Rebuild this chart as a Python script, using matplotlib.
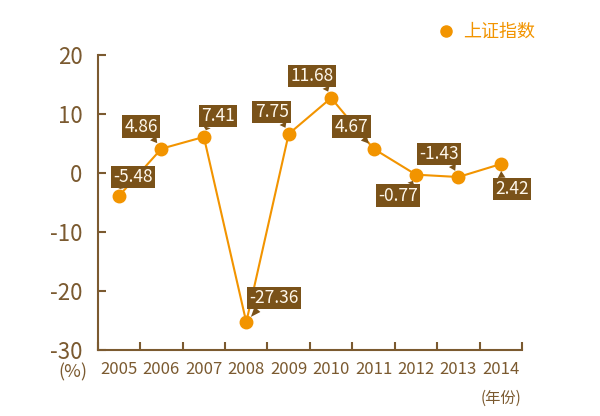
import matplotlib
matplotlib.use("Agg")
import matplotlib.pyplot as plt
from matplotlib.lines import Line2D
import numpy as np

plt.rcParams['font.family'] = ['Noto Sans CJK SC', 'DejaVu Sans']

# data (point heights, label texts as printed)
years = ['2005', '2006', '2007', '2008', '2009', '2010', '2011', '2012', '2013', '2014']
values = [-3.9, 4.1, 6.1, -25.3, 6.6, 12.7, 4.1, -0.3, -0.7, 1.5]
labels = ['-5.48', '4.86', '7.41', '-27.36', '7.75', '11.68', '4.67', '-0.77', '-1.43', '2.42']
series_name = '上证指数'
y_ticks = [-30, -20, -10, 0, 10, 20]

# label box offsets from the point (pixels)
label_offsets = [(14, 19), (-20, 22), (14, 21), (28, 24), (-17, 22),
                 (-19, 22), (-22, 22), (-18, -21), (-19, 23), (11, -25)]

orange = '#f29400'
brown = '#7b5a30'
box_brown = '#7a5219'

fig = plt.figure(figsize=(6, 4.16), dpi=100)
ax = fig.add_axes([0.163, 0.159, 0.707, 0.709])

x = np.arange(len(years))
ax.plot(x, values, color=orange, lw=1.5, marker='o', ms=9, mec=orange, mfc=orange, zorder=3)

for i, (v, lab) in enumerate(zip(values, labels)):
    dx, dy = label_offsets[i]
    rx = 0.8 if dx < 0 else 0.2
    ry = 0.0 if dy > 0 else 1.0
    ax.annotate(lab, xy=(i, v), xytext=(dx, dy), textcoords='offset pixels',
                ha='center', va='center', color='#fff8ec', fontsize=12.5,
                bbox=dict(boxstyle='square,pad=0.13', fc=box_brown, ec='none'),
                arrowprops=dict(arrowstyle='wedge,tail_width=0.45,shrink_factor=0.5',
                                fc=box_brown, ec='none', shrinkA=0, shrinkB=5,
                                relpos=(rx, ry)),
                zorder=4)

ax.set_xlim(-0.5, len(years) - 0.5)
ax.set_ylim(-30, 20)
ax.set_yticks(y_ticks)
ax.set_yticklabels([str(t) for t in y_ticks])
ax.set_xticks(np.arange(len(years) + 1) - 0.5)
ax.set_xticklabels([])
ax.set_xticks(x, minor=True)
ax.set_xticklabels(years, minor=True)

for s in ['top', 'right']:
    ax.spines[s].set_visible(False)
for s in ['left', 'bottom']:
    ax.spines[s].set_color(brown)
    ax.spines[s].set_linewidth(1.5)

ax.tick_params(axis='y', direction='in', length=6, width=1.5, color=brown,
               labelcolor=brown, labelsize=16, pad=11)
ax.tick_params(axis='x', which='major', direction='in', length=6, width=1.5, color=brown)
ax.tick_params(axis='x', which='minor', length=0, labelcolor=brown, labelsize=12, pad=8)

fig.text(73 / 600, 1 - 372 / 416, '(%)', color=brown, fontsize=13, ha='center', va='center')
fig.text(501 / 600, 1 - 398 / 416, '(年份)', color=brown, fontsize=11, ha='center', va='center')

handle = Line2D([], [], marker='o', ls='none', color=orange, ms=8)
fig.legend([handle], [series_name], loc='center', bbox_to_anchor=(487 / 600, 1 - 32 / 416),
           frameon=False, labelcolor=orange, fontsize=13, handlelength=0.8,
           handletextpad=0.5, borderpad=0)

fig.savefig('out.png', dpi=100)
